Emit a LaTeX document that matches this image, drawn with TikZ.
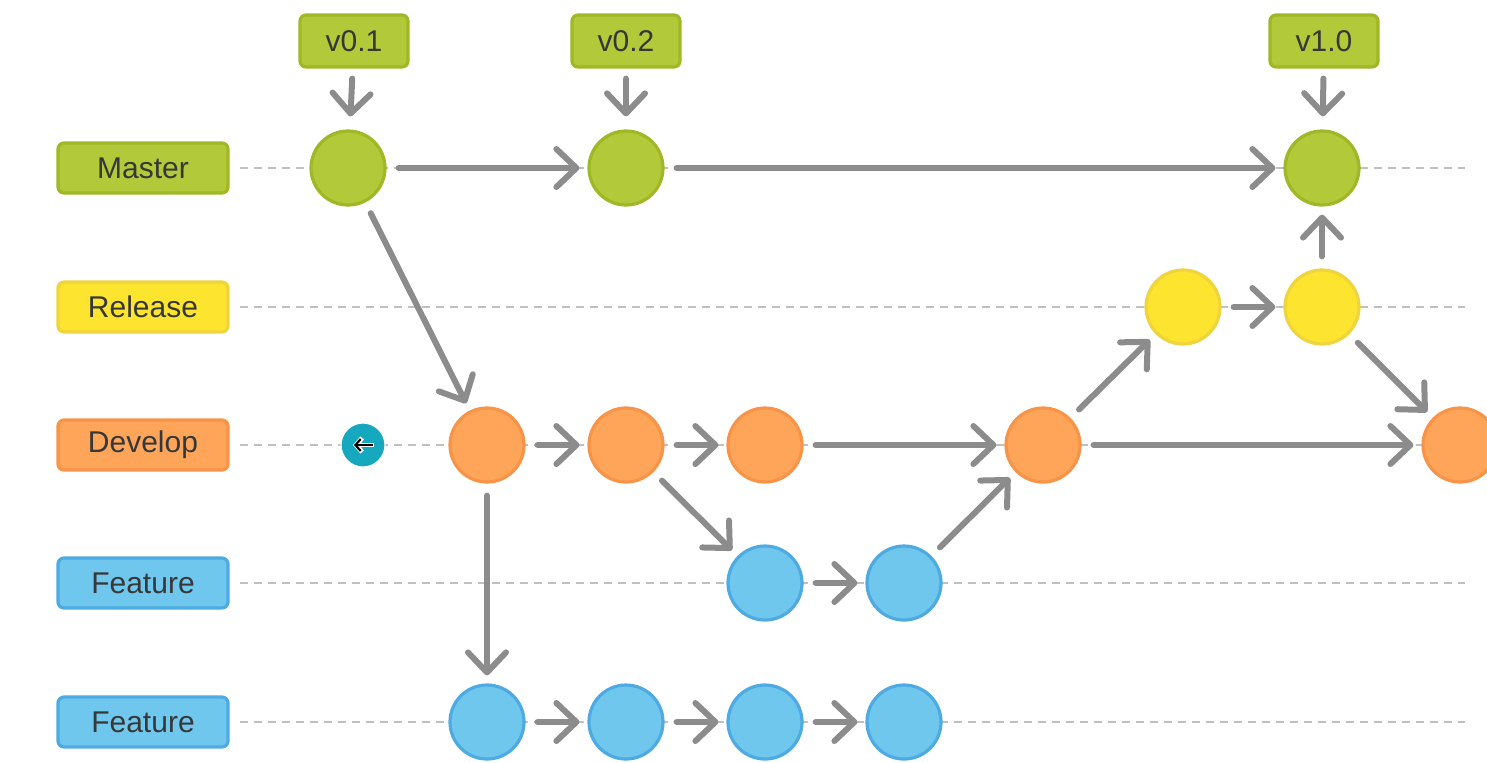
\documentclass[tikz,border=0pt]{standalone}
\usepackage{fontspec}
\setmainfont{Liberation Sans}
\usetikzlibrary{arrows.meta,positioning}
\definecolor{grnfill}{RGB}{178,201,58}
\definecolor{grnline}{RGB}{158,184,38}
\definecolor{ylwfill}{RGB}{253,228,46}
\definecolor{ylwline}{RGB}{240,212,62}
\definecolor{orgfill}{RGB}{255,165,90}
\definecolor{orgline}{RGB}{248,148,72}
\definecolor{blufill}{RGB}{112,199,238}
\definecolor{bluline}{RGB}{78,170,226}
\definecolor{arrgray}{RGB}{140,140,140}
\definecolor{lanegray}{RGB}{192,192,192}
\definecolor{txtgray}{RGB}{55,55,55}
\definecolor{cursor}{RGB}{22,168,190}
\begin{document}
\begin{tikzpicture}[x=0.5pt,y=0.5pt,yscale=-1,xscale=1,
  lanebox/.style={rounded corners=3pt,line width=1.6pt,minimum width=85pt,minimum height=25pt,inner sep=0pt,text=txtgray,font=\fontsize{15}{18}\selectfont},
  tagbox/.style={lanebox,minimum width=54pt,minimum height=26pt},
  commit/.style={circle,line width=1.6pt,minimum size=37pt,inner sep=0pt},
  green/.style={draw=grnline,fill=grnfill},
  yellow/.style={draw=ylwline,fill=ylwfill},
  orange/.style={draw=orgline,fill=orgfill},
  blue/.style={draw=bluline,fill=blufill},
  lane/.style={draw=lanegray,line width=0.7pt,dash pattern=on 4pt off 3pt},
  flow/.style={draw=arrgray,line width=3pt,line cap=round,-{Straight Barb[length=10pt,width=19pt,line cap=round,round]},shorten <=6pt,shorten >=4pt}]
\clip (0,0) rectangle (1487,762);
% lane labels
\node[lanebox,green]  (master)  at (143,168) {Master};
\node[lanebox,yellow] (release) at (143,307) {Release};
\node[lanebox,orange] (develop) at (143,445) {Develop};
\node[lanebox,blue]   (featA)   at (143,583) {Feature};
\node[lanebox,blue]   (featB)   at (143,722) {Feature};
% lane ends
\coordinate (masterend)  at (1465,168);
\coordinate (releaseend) at (1465,307);
\coordinate (developend) at (1440,445);
\coordinate (featAend)   at (1465,583);
\coordinate (featBend)   at (1465,722);
\foreach \l in {master,release,develop,featA,featB}
  \draw[lane] ([xshift=5pt]\l.east) -- (\l end);
% tags
\node[tagbox,green] (t1) at (354,41) {v0.1};
\node[tagbox,green] (t2) at (626,41) {v0.2};
\node[tagbox,green] (t3) at (1324,41) {v1.0};
% commits on master
\node[commit,green] (m1) at (348,168) {};
\node[commit,green] (m2) at (626,168) {};
\node[commit,green] (m3) at (1322,168) {};
% commits on release
\node[commit,yellow] (r1) at (1183,307) {};
\node[commit,yellow] (r2) at (1322,307) {};
% commits on develop
\node[commit,orange] (d1) at (487,445) {};
\node[commit,orange] (d2) at (626,445) {};
\node[commit,orange] (d3) at (765,445) {};
\node[commit,orange] (d4) at (1043,445) {};
\node[commit,orange] (d5) at (1460,445) {};
% commits on features
\node[commit,blue] (fa1) at (765,583) {};
\node[commit,blue] (fa2) at (904,583) {};
\node[commit,blue] (fb1) at (487,722) {};
\node[commit,blue] (fb2) at (626,722) {};
\node[commit,blue] (fb3) at (765,722) {};
\node[commit,blue] (fb4) at (904,722) {};
% pointer
\node[circle,fill=cursor,draw=white,line width=0.6pt,minimum size=22pt,inner sep=0pt] (ptr) at (363,445) {};
\draw[white,line width=2.4pt,-{Straight Barb[length=3pt,width=7pt]}] ([xshift=5.5pt]ptr.center) -- ([xshift=-5pt]ptr.center);
\draw[black,line width=1.1pt,-{Straight Barb[length=2.6pt,width=6pt]}] ([xshift=5pt]ptr.center) -- ([xshift=-4.5pt]ptr.center);
% tag arrows
\foreach \t/\c in {t1/m1,t2/m2,t3/m3}
  \draw[flow,shorten <=5pt,shorten >=6.5pt] (\t) -- (\c);
% flows
\draw[flow] (m1) -- (m2);
\draw[flow] (m2) -- (m3);
\draw[flow] (m1) -- (d1);
\draw[flow] (r1) -- (r2);
\draw[flow] (r2) -- (m3);
\draw[flow] (r2) -- (d5);
\draw[flow] (d1) -- (d2);
\draw[flow] (d2) -- (d3);
\draw[flow] (d3) -- (d4);
\draw[flow] (d4) -- (d5);
\draw[flow] (d4) -- (r1);
\draw[flow] (d2) -- (fa1);
\draw[flow] (fa1) -- (fa2);
\draw[flow] (fa2) -- (d4);
\draw[flow] (d1) -- (fb1);
\draw[flow] (fb1) -- (fb2);
\draw[flow] (fb2) -- (fb3);
\draw[flow] (fb3) -- (fb4);
\end{tikzpicture}
\end{document}
